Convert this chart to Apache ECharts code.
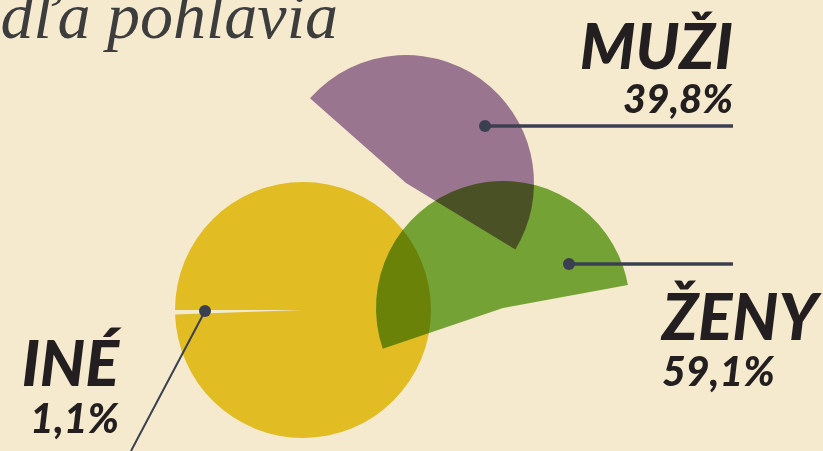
<!DOCTYPE html>
<html>
<head>
<meta charset="utf-8">
<script src="https://cdn.jsdelivr.net/npm/echarts@6/dist/echarts.min.js"></script>
<style>
  html, body { margin: 0; padding: 0; background: #f5eacd; }
  #chart { width: 823px; height: 451px; }
</style>
</head>
<body>
<div id="chart"></div>
<script>
// ---- data ----
const titleText = 'Podľa pohlavia';
const categories = ['MUŽI', 'ŽENY', 'INÉ'];
const percentValues = [39.8, 59.1, 1.1];          // printed shares
const arcShares = [47.2, 52.3, 0.55];             // share of a full turn each wedge covers

// ---- style / layout ----
const BG = '#f5eacd';
const rawColors = ['#a080b3', '#79b141', '#ebcd2a']; // multiplied onto the cream background
const centers = [[406, 183], [503, 308], [303, 310]];
const radii = [128, 127, 128];
const startAngles = [138.6, 198.7, 182];
const LABEL_FONT = '"Lato", "Roboto", sans-serif';
const INK = '#231f20';
const LINE = '#3b4050';

function fmt(v) { return v.toFixed(1).replace('.', ',') + '%'; }

const chart = echarts.init(document.getElementById('chart'), null, { renderer: 'canvas' });

const baseSeries = {
  type: 'pie',
  clockwise: true,
  avoidLabelOverlap: false,
  label: { show: false },
  labelLine: { show: false },
  emphasis: { disabled: true },
  silent: true,
  blendMode: 'multiply',
  itemStyle: { borderWidth: 0 }
};

const series = [
  Object.assign({}, baseSeries, {
    name: categories[0], center: centers[0], radius: radii[0], startAngle: startAngles[0],
    data: [
      { name: categories[0], value: arcShares[0], itemStyle: { color: rawColors[0] } },
      { name: 'rest', value: 100 - arcShares[0], itemStyle: { color: 'rgba(0,0,0,0)' } }
    ]
  }),
  Object.assign({}, baseSeries, {
    name: categories[1], center: centers[1], radius: radii[1], startAngle: startAngles[1],
    data: [
      { name: categories[1], value: arcShares[1], itemStyle: { color: rawColors[1] } },
      { name: 'rest', value: 100 - arcShares[1], itemStyle: { color: 'rgba(0,0,0,0)' } }
    ]
  }),
  Object.assign({}, baseSeries, {
    name: categories[2], center: centers[2], radius: radii[2], startAngle: startAngles[2],
    data: [
      { name: categories[2], value: arcShares[2], itemStyle: { color: '#ffffff' } },
      { name: 'rest', value: 100 - arcShares[2], itemStyle: { color: rawColors[2] } }
    ]
  })
];

const graphics = [
  // title (partly cut off at the left edge)
  { type: 'text', z: 100, style: { text: titleText, x: 338, y: 21, align: 'right', verticalAlign: 'middle',
      font: 'italic 66px "Liberation Serif", serif', fill: '#3d3d3d' } },
  // leader lines and dots
  { type: 'line', z: 100, shape: { x1: 485, y1: 126, x2: 733, y2: 126 }, style: { stroke: LINE, lineWidth: 3.5 } },
  { type: 'circle', z: 101, shape: { cx: 485, cy: 126, r: 6 }, style: { fill: LINE } },
  { type: 'line', z: 100, shape: { x1: 569, y1: 264, x2: 733, y2: 264 }, style: { stroke: LINE, lineWidth: 3.5 } },
  { type: 'circle', z: 101, shape: { cx: 569, cy: 264, r: 6 }, style: { fill: LINE } },
  { type: 'line', z: 100, shape: { x1: 205, y1: 311, x2: 131, y2: 451 }, style: { stroke: LINE, lineWidth: 2 } },
  { type: 'circle', z: 101, shape: { cx: 205, cy: 311, r: 6 }, style: { fill: LINE } },
  // labels
  { type: 'text', z: 100, style: { text: categories[0], x: 733, y: 49, align: 'right', verticalAlign: 'middle',
      font: 'italic 900 63px ' + LABEL_FONT, fill: INK } },
  { type: 'text', z: 100, style: { text: fmt(percentValues[0]), x: 733, y: 100, align: 'right', verticalAlign: 'middle',
      font: 'italic 900 40px ' + LABEL_FONT, fill: INK } },
  { type: 'text', z: 100, style: { text: categories[1], x: 662, y: 319, align: 'left', verticalAlign: 'middle',
      font: 'italic 900 64px ' + LABEL_FONT, fill: INK } },
  { type: 'text', z: 100, style: { text: fmt(percentValues[1]), x: 662, y: 373, align: 'left', verticalAlign: 'middle',
      font: 'italic 900 41px ' + LABEL_FONT, fill: INK } },
  { type: 'text', z: 100, style: { text: categories[2], x: 119, y: 366, align: 'right', verticalAlign: 'middle',
      font: 'italic 900 63px ' + LABEL_FONT, fill: INK } },
  { type: 'text', z: 100, style: { text: fmt(percentValues[2]), x: 119, y: 420, align: 'right', verticalAlign: 'middle',
      font: 'italic 900 41px ' + LABEL_FONT, fill: INK } }
];

chart.setOption({
  backgroundColor: BG,
  animation: false,
  tooltip: { show: false },
  series: series,
  graphic: { elements: graphics }
});
</script>
</body>
</html>
